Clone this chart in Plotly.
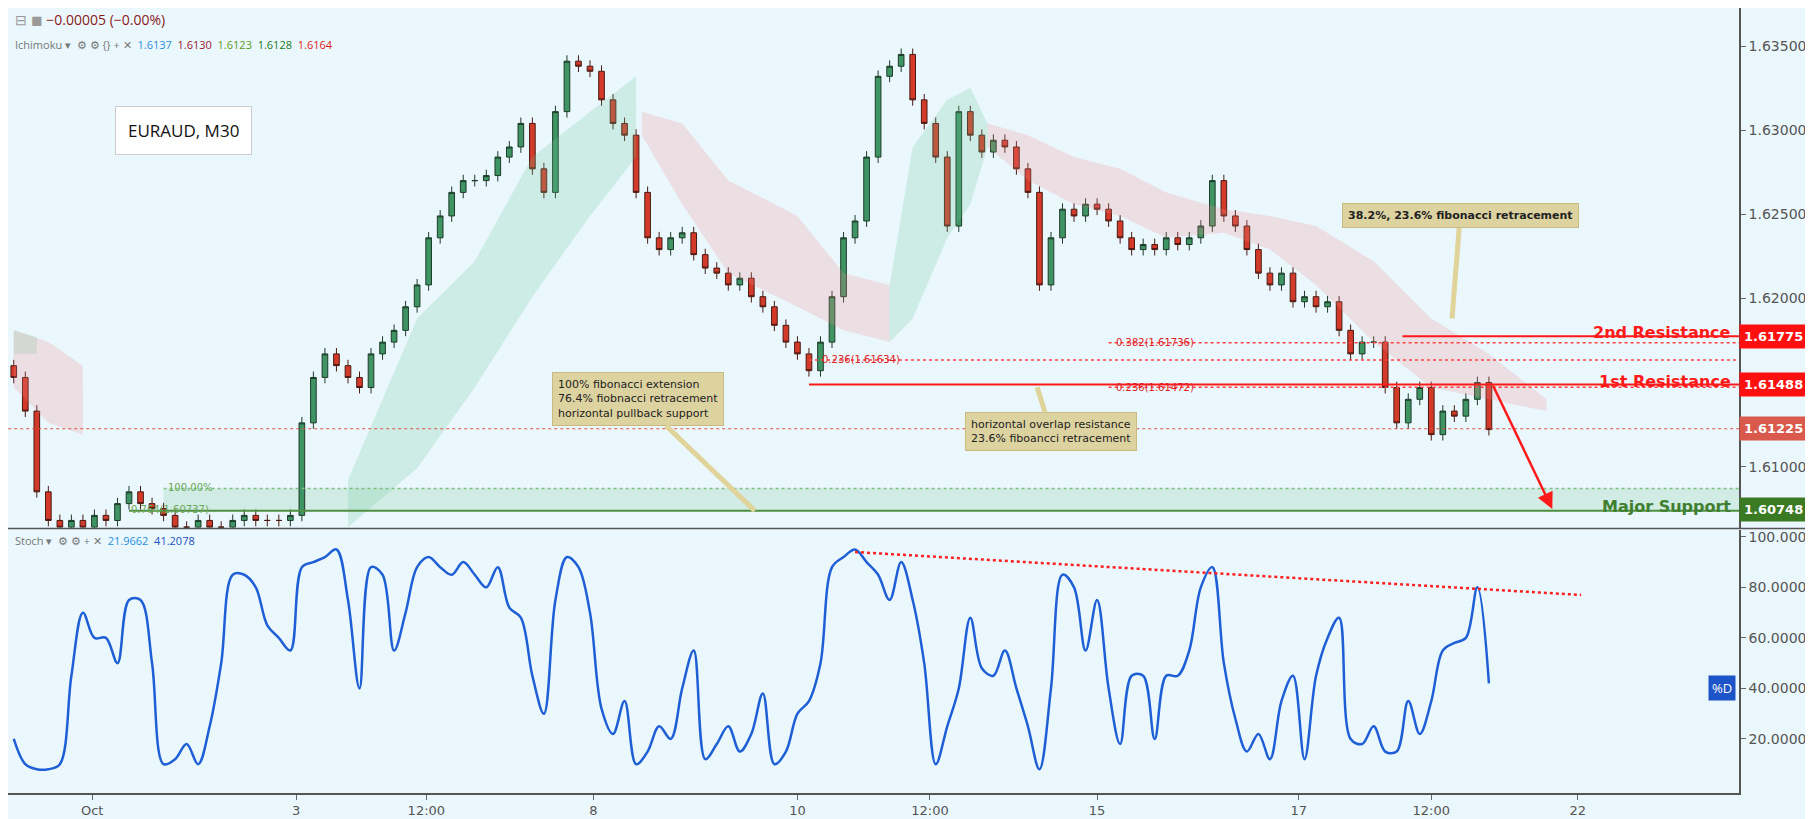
import numpy as np
import plotly.graph_objects as go

# EURAUD M30 - closes sampled roughly every 2.5h (index units)
fechamentos = [1.6153, 1.6133, 1.6085, 1.6068, 1.6064, 1.6068, 1.6064, 1.6071, 1.6068, 1.6078,
               1.6085, 1.6078, 1.6075, 1.6071, 1.6064, 1.6064, 1.6068, 1.6064, 1.6064, 1.6068,
               1.6071, 1.6068, 1.6068, 1.6068, 1.6071, 1.6126, 1.6153, 1.6167, 1.6160, 1.6153,
               1.6147, 1.6167, 1.6174, 1.6181, 1.6195, 1.6208, 1.6236, 1.6249, 1.6263, 1.6270,
               1.6270, 1.6273, 1.6284, 1.6290, 1.6304, 1.6277, 1.6263, 1.6311, 1.6341, 1.6338,
               1.6335, 1.6318, 1.6304, 1.6297, 1.6263, 1.6236, 1.6229, 1.6236, 1.6239, 1.6226,
               1.6218, 1.6215, 1.6208, 1.6212, 1.6201, 1.6195, 1.6184, 1.6174, 1.6167, 1.6157,
               1.6174, 1.6201, 1.6236, 1.6246, 1.6284, 1.6332, 1.6338, 1.6345, 1.6318, 1.6304,
               1.6284, 1.6243, 1.6311, 1.6297, 1.6287, 1.6294, 1.6290, 1.6277, 1.6263, 1.6208,
               1.6236, 1.6253, 1.6249, 1.6256, 1.6253, 1.6246, 1.6236, 1.6229, 1.6232, 1.6229,
               1.6236, 1.6232, 1.6236, 1.6243, 1.6270, 1.6249, 1.6243, 1.6229, 1.6215, 1.6208,
               1.6215, 1.6198, 1.6201, 1.6195, 1.6198, 1.6181, 1.6167, 1.6174, 1.6174, 1.6147,
               1.6126, 1.6140, 1.6147, 1.6119, 1.6133, 1.6130, 1.6140, 1.6150, 1.6122]
abertura_inicial = 1.6160
pavio = 0.00035

stoch_d = [20, 10, 8, 8, 10, 45, 70, 60, 60, 50, 75, 75, 50, 10, 12, 18, 10, 25, 50, 85,
           85, 80, 65, 60, 55, 88, 90, 92, 95, 75, 40, 88, 85, 55, 70, 88, 92, 88, 85, 90,
           85, 80, 88, 72, 68, 45, 30, 75, 92, 88, 70, 32, 22, 35, 10, 15, 25, 20, 40, 55,
           12, 18, 25, 15, 22, 38, 10, 15, 30, 35, 50, 88, 92, 95, 90, 85, 75, 90, 75, 50,
           10, 25, 40, 68, 48, 45, 55, 40, 25, 8, 40, 85, 80, 55, 75, 40, 18, 45, 45, 20,
           45, 45, 55, 80, 88, 50, 28, 15, 22, 12, 35, 45, 12, 45, 60, 68, 20, 18, 25, 15,
           15, 35, 22, 35, 55, 58, 60, 80, 42]

# ichimoku cloud segments: (x, top, bottom, kind)
nuvens = [
    ([0, 2], [1.6181, 1.6177], [1.6167, 1.6167], "verde"),
    ([0, 3, 6], [1.6181, 1.6174, 1.6160], [1.6147, 1.6126, 1.6119], "rosa"),
    ([29, 35, 40, 45, 50, 54], [1.6092, 1.6188, 1.6222, 1.6284, 1.6311, 1.6332],
     [1.6064, 1.6099, 1.6147, 1.6201, 1.6249, 1.6284], "verde"),
    ([54.5, 58, 62, 68, 72, 76], [1.6311, 1.6304, 1.6270, 1.6249, 1.6215, 1.6208],
     [1.6297, 1.6256, 1.6215, 1.6195, 1.6181, 1.6174], "rosa"),
    ([76, 78, 81, 83, 84.5], [1.6208, 1.6290, 1.6318, 1.6325, 1.6304],
     [1.6174, 1.6188, 1.6236, 1.6256, 1.6290], "verde"),
    ([84.5, 88, 92, 96, 100, 105, 109, 113, 118, 123, 128, 133],
     [1.6304, 1.6297, 1.6284, 1.6277, 1.6263, 1.6253, 1.6249, 1.6243, 1.6222, 1.6188, 1.6167, 1.6140],
     [1.6290, 1.6270, 1.6256, 1.6249, 1.6236, 1.6239, 1.6229, 1.6208, 1.6174, 1.6147, 1.6140, 1.6133], "rosa"),
]

tick_pos = [6.8, 24.5, 35.8, 50.3, 68, 79.5, 94, 111.5, 123, 135.7]
tick_txt = ["Oct", "3", "12:00", "8", "10", "12:00", "15", "17", "12:00", "22"]
precos_ticks = [1.610, 1.620, 1.625, 1.630, 1.635]

resist2 = 1.61775
resist1 = 1.61488
preco_atual = 1.61225
suporte = 1.60748
fib_100 = 1.6087
fib_764 = 1.60737
fib_382 = 1.61736
fib_236a = 1.61634
fib_236b = 1.61472

fundo = "#eaf7fd"
x = np.arange(len(fechamentos))
fech = np.array(fechamentos)
aber = np.concatenate([[abertura_inicial], fech[:-1]])
alta = np.maximum(aber, fech) + pavio
baixa = np.minimum(aber, fech) - pavio

fig = go.Figure()

cores_nuvem = {"verde": "rgba(110,200,150,0.22)", "rosa": "rgba(240,140,140,0.22)"}
for xs, topo, base, tipo in nuvens:
    fig.add_trace(go.Scatter(x=xs, y=base, mode="lines", line=dict(width=0),
                             showlegend=False, hoverinfo="skip"))
    fig.add_trace(go.Scatter(x=xs, y=topo, mode="lines", line=dict(width=0),
                             fill="tonexty", fillcolor=cores_nuvem[tipo],
                             showlegend=False, hoverinfo="skip"))

fig.add_trace(go.Candlestick(
    x=x, open=aber, high=alta, low=baixa, close=fech,
    increasing=dict(fillcolor="#3f9464", line=dict(color="#1d3b28", width=1)),
    decreasing=dict(fillcolor="#d33a2a", line=dict(color="#4a1a12", width=1)),
    whiskerwidth=0, showlegend=False))

fig.add_trace(go.Scatter(x=x, y=stoch_d, mode="lines", line=dict(color="#1f5fd6", width=2.5,
                         shape="spline"), xaxis="x2", yaxis="y2", showlegend=False))

# stoch trendline
fig.add_trace(go.Scatter(x=[73, 136], y=[94, 77], mode="lines", xaxis="x2", yaxis="y2",
                         line=dict(color="#ff2020", width=2.5, dash="dot"), showlegend=False))

shapes = []
def hline(y, x0, x1, color, width=1.5, dash="solid"):
    shapes.append(dict(type="line", xref="x", yref="y", x0=x0, x1=x1, y0=y, y1=y,
                       line=dict(color=color, width=width, dash=dash)))

shapes.append(dict(type="rect", xref="x", yref="y", x0=13, x1=149.7, y0=fib_764, y1=fib_100,
                   fillcolor="rgba(120,200,140,0.22)", line=dict(width=0), layer="below"))
hline(fib_100, 13, 149.7, "#7fbf7f", 1.5, "dot")
hline(fib_764, 10, 149.7, "#4f8f3f", 2)
hline(preco_atual, -1, 149.7, "#e05040", 1, "dot")
hline(resist2, 120.5, 149.7, "#ff1a1a", 2)
hline(fib_382, 95, 149.7, "#ff4040", 1.5, "dot")
hline(fib_236a, 69, 149.7, "#ff4040", 1.5, "dot")
hline(resist1, 69, 149.7, "#ff1a1a", 2)
hline(fib_236b, 95, 149.7, "#ff4040", 1.5, "dot")
# pane separator
shapes.append(dict(type="line", xref="paper", yref="paper", x0=0, x1=1.05, y0=0.337, y1=0.337,
                   line=dict(color="#555", width=1.5)))

anots = []
def txt(xv, yv, s, color, size=11, xanchor="left", bold=False):
    anots.append(dict(x=xv, y=yv, xref="x", yref="y", text=f"<b>{s}</b>" if bold else s,
                      showarrow=False, font=dict(color=color, size=size, family="DejaVu Sans"),
                      xanchor=xanchor, yanchor="middle"))

txt(13.2, fib_100 + 0.00008, "100.00%", "#6aa85a", 10)
txt(10, fib_764 + 0.00008, "0.764(1.60737)", "#6aa85a", 10)
txt(95.5, fib_382, "0.382(1.61736)", "#e02020", 10)
txt(70, fib_236a + 0.00004, "0.236(1.61634)", "#e02020", 10)
txt(95.5, fib_236b, "0.236(1.61472)", "#e02020", 10)
txt(149.2, resist2 + 0.0002, "2nd Resistance", "#ff1a1a", 16, "right", True)
txt(149.2, resist1 + 0.0002, "1st Resistance", "#ff1a1a", 16, "right", True)
txt(149.2, suporte + 0.00012, "Major Support", "#3f7f2f", 16, "right", True)

def tag(yv, s, cor, yref="y"):
    anots.append(dict(x=1.0, y=yv, xref="paper", yref=yref, text=f"<b>{s}</b>", showarrow=False,
                      xanchor="left", yanchor="middle", bgcolor=cor, borderpad=4,
                      font=dict(color="white", size=13, family="DejaVu Sans")))

tag(resist2, "1.61775", "#ff1010")
tag(resist1, "1.61488", "#ff1010")
tag(preco_atual, "1.61225", "#d9594c")
tag(suporte, "1.60748", "#3a7a22")
anots.append(dict(x=0.998, y=40, xref="paper", yref="y2", text="%D", showarrow=False,
                  xanchor="right", bgcolor="#1d55c8", borderpad=3,
                  font=dict(color="white", size=13)))

# red arrow projection
anots.append(dict(x=133.5, y=suporte, ax=128.3, ay=1.6149, xref="x", yref="y", axref="x", ayref="y",
                  showarrow=True, arrowhead=2, arrowsize=1.3, arrowwidth=2.5, arrowcolor="#ff1a1a", text=""))

def balao(bx, by, px, py, s):
    anots.append(dict(x=px, y=py, ax=bx, ay=by, xref="x", yref="y", axref="x", ayref="y",
                      text=s, showarrow=True, arrowhead=0, arrowwidth=5, arrowcolor="#e0d49a",
                      bgcolor="#ddd3a0", bordercolor="#c9bb80", borderwidth=1, borderpad=5,
                      font=dict(size=11, color="#222", family="DejaVu Sans"), align="left"))

balao(125.5, 1.6249, 124.8, 1.6188, "<b>38.2%, 23.6% fibonacci retracement</b>")
balao(54.2, 1.6140, 64.3, fib_764, "100% fibonacci extension<br>76.4% fiobnacci retracement<br>horizontal pullback support")
balao(90, 1.6121, 88.8, fib_236b, "horizontal overlap resistance<br>23.6% fiboancci retracement")

# top-left legend and title box
anots.append(dict(x=0.003, y=1.0, xref="paper", yref="paper", xanchor="left", yanchor="top",
                  text="⊟ ◼ <span style='color:#8b1a1a'>−0.00005 (−0.00%)</span>", showarrow=False,
                  font=dict(size=14, color="#999")))
anots.append(dict(x=0.003, y=0.965, xref="paper", yref="paper", xanchor="left", yanchor="top",
                  text="Ichimoku ▾  ⚙ ⚙ {} + ✕  <span style='color:#2a8fe0'>1.6137</span>  "
                       "<span style='color:#9b1a2a'>1.6130</span>  <span style='color:#5a9a20'>1.6123</span>  "
                       "<span style='color:#1a7a1a'>1.6128</span>  <span style='color:#e01a1a'>1.6164</span>",
                  showarrow=False, font=dict(size=11, color="#777")))
anots.append(dict(x=0.003, y=0.334, xref="paper", yref="paper", xanchor="left", yanchor="top",
                  text="Stoch ▾  ⚙ ⚙ + ✕  <span style='color:#2a8fe0'>21.9662</span>  "
                       "<span style='color:#1a4fc0'>41.2078</span>",
                  showarrow=False, font=dict(size=11, color="#777")))
anots.append(dict(x=0.062, y=0.875, xref="paper", yref="paper", text="EURAUD, M30", showarrow=False,
                  bgcolor="white", bordercolor="#cccccc", borderwidth=1, borderpad=12,
                  font=dict(size=17, color="#111")))

fig.update_layout(
    width=1813, height=819, paper_bgcolor=fundo, plot_bgcolor=fundo,
    margin=dict(l=0, r=82, t=0, b=34),
    shapes=shapes, annotations=anots,
    xaxis=dict(domain=[0, 1], range=[-0.5, 149.7], rangeslider=dict(visible=False),
               showticklabels=False, showgrid=False, zeroline=False, anchor="y"),
    yaxis=dict(domain=[0.338, 1], range=[1.60637, 1.63726], side="right", tickvals=precos_ticks,
               tickformat=".5f", showgrid=False, zeroline=False, ticks="outside", ticklen=5,
               tickcolor="#666", showline=True, linecolor="#555", linewidth=1.5,
               tickfont=dict(size=14, color="#555", family="DejaVu Sans")),
    xaxis2=dict(domain=[0, 1], range=[-0.5, 149.7], tickvals=tick_pos, ticktext=tick_txt,
                showgrid=False, zeroline=False, anchor="y2", ticks="outside", tickcolor="#666",
                showline=True, linecolor="#555", linewidth=1.5,
                tickfont=dict(size=13, color="#555", family="DejaVu Sans")),
    yaxis2=dict(domain=[0, 0.335], range=[-1.4, 102.7], side="right",
                tickvals=[20, 40, 60, 80, 100], tickformat=".4f", showgrid=False, zeroline=False,
                ticks="outside", ticklen=5, tickcolor="#666", showline=True, linecolor="#555",
                linewidth=1.5, anchor="x2",
                tickfont=dict(size=14, color="#555", family="DejaVu Sans")),
)

fig.write_html("out.html")
